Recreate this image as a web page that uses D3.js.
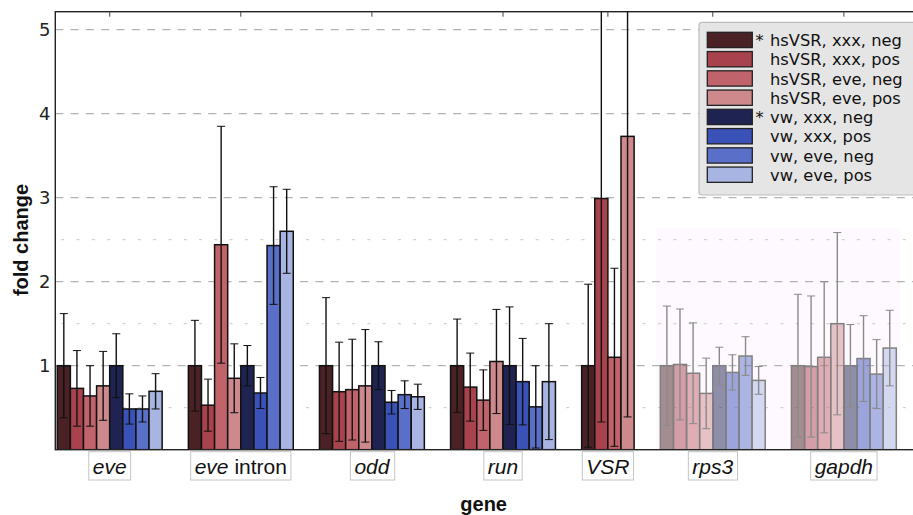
<!DOCTYPE html>
<html><head><meta charset="utf-8">
<script src="https://cdn.jsdelivr.net/npm/d3@7"></script>
<style>
html,body{margin:0;padding:0;background:#fff;overflow:hidden;}
svg{display:block;}
</style></head>
<body>
<svg id="chart" width="913" height="515"></svg>
<script>
// ---- data ----
const genes = ["eve", "eve intron", "odd", "run", "VSR", "rps3", "gapdh"];
const seriesNames = ["hsVSR, xxx, neg", "hsVSR, xxx, pos", "hsVSR, eve, neg", "hsVSR, eve, pos",
                     "vw, xxx, neg", "vw, xxx, pos", "vw, eve, neg", "vw, eve, pos"];
const starred = [true, false, false, false, true, false, false, false];
const seriesColors = ["#4a2124", "#a8434d", "#c0636b", "#cd898c", "#1e2352", "#3a51b8", "#5a70c8", "#a8b5e2"];

const foldEve      = [1.0, 0.73, 0.64, 0.76, 1.0, 0.485, 0.485, 0.695];
const errEve       = [0.62, 0.45, 0.36, 0.41, 0.38, 0.18, 0.155, 0.21];
const foldEveIntron= [1.0, 0.53, 2.44, 0.85, 1.0, 0.675, 2.43, 2.60];
const errEveIntron = [0.54, 0.31, 1.41, 0.41, 0.24, 0.185, 0.70, 0.50];
const foldOdd      = [1.0, 0.69, 0.715, 0.76, 1.0, 0.565, 0.655, 0.63];
const errOdd       = [0.81, 0.59, 0.60, 0.67, 0.285, 0.14, 0.165, 0.15];
const foldRun      = [1.0, 0.745, 0.59, 1.05, 1.0, 0.81, 0.51, 0.81];
const errRun       = [0.555, 0.405, 0.36, 0.62, 0.70, 0.515, 0.49, 0.69];
const foldVSR      = [1.0, 2.99, 1.10, 3.73];
const errVSR       = [0.97, 2.66, 1.06, 3.34];
const foldRps3     = [1.0, 1.015, 0.91, 0.67, 1.0, 0.92, 1.115, 0.825];
const errRps3      = [0.71, 0.66, 0.60, 0.42, 0.22, 0.21, 0.23, 0.165];
const foldGapdh    = [1.0, 0.99, 1.10, 1.50, 1.0, 1.085, 0.90, 1.21];
const errGapdh     = [0.85, 0.84, 0.90, 1.085, 0.49, 0.51, 0.41, 0.45];
const controlGenes = ["rps3", "gapdh"];   // shaded, faded reference genes
const yTicks = [1, 2, 3, 4, 5];
const yMinorGrid = [0.5, 1.5, 2.5];

const foldByGene = [foldEve, foldEveIntron, foldOdd, foldRun, foldVSR, foldRps3, foldGapdh];
const errByGene  = [errEve, errEveIntron, errOdd, errRun, errVSR, errRps3, errGapdh];

// ---- layout ----
const svg = d3.select("#chart");
const L = 55.3, R = 914, T = 11.7, B = 449.7;

// slot positions: bars contiguous within group, two empty slots between groups
let slot = 0;
const groups = genes.map((g, gi) => {
  const start = slot;
  slot += foldByGene[gi].length + 2;
  return {gene: g, start, n: foldByGene[gi].length, control: controlGenes.includes(g)};
});
const bars = [];
groups.forEach((grp, gi) => {
  foldByGene[gi].forEach((v, si) => {
    bars.push({gene: grp.gene, si, pos: grp.start + si, v, e: errByGene[gi][si], control: grp.control});
  });
});

const x = d3.scaleLinear().domain([-0.15, 65.35]).range([L, R]);
const y = d3.scaleLinear().domain([0, 5.214]).range([B, T]);
const bw = x(1) - x(0);

svg.append("defs").append("clipPath").attr("id", "plotclip")
  .append("rect").attr("x", L).attr("y", T).attr("width", R - L).attr("height", B - T);

// shaded control region
const ctrl = groups.filter(g => g.control);
svg.append("rect")
  .attr("x", x(ctrl[0].start - 0.3))
  .attr("y", y(2.64))
  .attr("width", x(ctrl[ctrl.length - 1].start + ctrl[ctrl.length - 1].n + 0.3) - x(ctrl[0].start - 0.3))
  .attr("height", y(0) - y(2.64))
  .attr("fill", "#fef9fe");

// grid
const grid = svg.append("g");
grid.selectAll("line.major").data(yTicks).join("line")
  .attr("x1", L).attr("x2", R).attr("y1", d => y(d)).attr("y2", d => y(d))
  .attr("stroke", "#b3b3b3").attr("stroke-width", 1.2).attr("stroke-dasharray", "8,7.3");
grid.selectAll("line.minor").data(yMinorGrid).join("line")
  .attr("x1", L + 6).attr("x2", R).attr("y1", d => y(d)).attr("y2", d => y(d))
  .attr("stroke", "#c8c8c8").attr("stroke-width", 1).attr("stroke-dasharray", "3,12.3");

// bars
const plot = svg.append("g").attr("clip-path", "url(#plotclip)");
plot.selectAll("rect.bar").data(bars).join("rect")
  .attr("x", d => x(d.pos)).attr("width", bw)
  .attr("y", d => y(d.v)).attr("height", d => y(0) - y(d.v))
  .attr("fill", d => seriesColors[d.si])
  .attr("fill-opacity", d => d.control ? 0.5 : 1)
  .attr("stroke", d => d.control ? "#808080" : "#111")
  .attr("stroke-width", 1.5);

// error bars
const eb = plot.selectAll("g.err").data(bars).join("g")
  .attr("stroke", d => d.control ? "#8a8a8a" : "#111")
  .attr("stroke-width", 1.4);
eb.append("line")
  .attr("x1", d => x(d.pos + 0.5)).attr("x2", d => x(d.pos + 0.5))
  .attr("y1", d => y(d.v + d.e)).attr("y2", d => y(Math.max(d.v - d.e, 0)));
eb.append("line")
  .attr("x1", d => x(d.pos + 0.5) - 4).attr("x2", d => x(d.pos + 0.5) + 4)
  .attr("y1", d => y(d.v + d.e)).attr("y2", d => y(d.v + d.e)).attr("stroke-width", 1);
eb.append("line")
  .attr("x1", d => x(d.pos + 0.5) - 4).attr("x2", d => x(d.pos + 0.5) + 4)
  .attr("y1", d => y(Math.max(d.v - d.e, 0))).attr("y2", d => y(Math.max(d.v - d.e, 0))).attr("stroke-width", 1);

// spines
svg.append("rect").attr("x", L).attr("y", T).attr("width", R - L).attr("height", B - T)
  .attr("fill", "none").attr("stroke", "#222").attr("stroke-width", 1.4);

// top ticks at group centres
svg.selectAll("line.topTick").data(groups).join("line")
  .attr("x1", d => x(d.start + d.n / 2)).attr("x2", d => x(d.start + d.n / 2))
  .attr("y1", T).attr("y2", T + 5).attr("stroke", "#444").attr("stroke-width", 1);

// y tick labels
svg.selectAll("text.ytick").data(yTicks).join("text")
  .attr("x", 50.5).attr("y", d => y(d)).attr("dy", "0.36em")
  .attr("text-anchor", "end")
  .attr("font-family", "DejaVu Sans").attr("font-size", 18).attr("fill", "#222")
  .text(d => d);

// x category labels in boxes
const xl = svg.selectAll("g.xlab").data(groups).join("g");
xl.each(function(d) {
  const g = d3.select(this);
  const cx = x(d.start + d.n / 2);
  const t = g.append("text").attr("x", cx).attr("y", 474)
    .attr("text-anchor", "middle")
    .attr("font-family", "Liberation Sans, Arial").attr("font-size", 21).attr("fill", "#111");
  if (d.gene === "eve intron") {
    t.append("tspan").attr("font-style", "italic").text("eve");
    t.append("tspan").text(" intron");
  } else {
    t.attr("font-style", "italic").text(d.gene);
  }
  const bb = t.node().getBBox();
  g.insert("rect", "text")
    .attr("x", bb.x - 4).attr("y", 451.7).attr("width", bb.width + 8).attr("height", 28.3)
    .attr("fill", "#fff").attr("stroke", "#c4c4c4").attr("stroke-width", 1);
});

// axis titles
svg.append("text").attr("x", (L + R) / 2 - 1).attr("y", 511)
  .attr("text-anchor", "middle").attr("font-family", "Liberation Sans, Arial")
  .attr("font-weight", "bold").attr("font-size", 20).attr("fill", "#111").text("gene");
svg.append("text").attr("transform", "translate(28,240) rotate(-90)")
  .attr("text-anchor", "middle").attr("font-family", "Liberation Sans, Arial")
  .attr("font-weight", "bold").attr("font-size", 20).attr("fill", "#111").text("fold change");

// legend
const lg = svg.append("g");
lg.append("rect").attr("x", 699).attr("y", 22.3).attr("width", 240).attr("height", 172.7)
  .attr("rx", 3).attr("fill", "#e5e5e5").attr("stroke", "#bdbdbd").attr("stroke-width", 1.2);
const rowH = 19.25;
const items = lg.selectAll("g.item").data(seriesNames).join("g")
  .attr("transform", (d, i) => `translate(0,${32.3 + i * rowH})`);
items.append("rect").attr("x", 707.3).attr("y", 0).attr("width", 45).attr("height", 15.3)
  .attr("fill", (d, i) => seriesColors[i]).attr("stroke", "#222").attr("stroke-width", 1.3);
items.append("text").attr("x", 755.5).attr("y", 13.8)
  .attr("font-family", "DejaVu Sans").attr("font-size", 16.3).attr("fill", "#111")
  .text((d, i) => starred[i] ? "*" : "");
items.append("text").attr("x", 770).attr("y", 13.8)
  .attr("font-family", "DejaVu Sans").attr("font-size", 16.3).attr("fill", "#111")
  .text(d => d);
</script>
</body></html>
